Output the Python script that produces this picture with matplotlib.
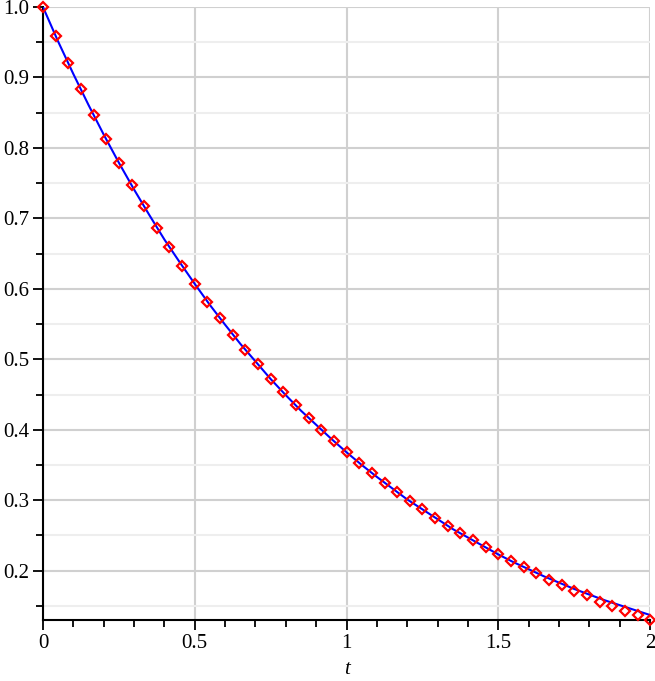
import matplotlib
matplotlib.use("Agg")
import matplotlib.pyplot as plt
from matplotlib.ticker import MultipleLocator

# Solution curve, t step 0.05
t_curve = [i * 0.05 for i in range(41)]
y_curve = [1.000, 0.951, 0.905, 0.861, 0.819, 0.779, 0.741, 0.705, 0.670, 0.638,
           0.607, 0.577, 0.549, 0.522, 0.497, 0.472, 0.449, 0.427, 0.407, 0.387,
           0.368, 0.350, 0.333, 0.317, 0.301, 0.287, 0.273, 0.259, 0.247, 0.235,
           0.223, 0.212, 0.202, 0.192, 0.183, 0.174, 0.166, 0.158, 0.151, 0.144,
           0.137]

# Numerical points (diamonds), t step 1/24
t_pts = [i / 24 for i in range(49)]
y_pts = [1.000, 0.959, 0.920, 0.883, 0.847, 0.812, 0.779, 0.747, 0.717, 0.687,
         0.659, 0.632, 0.607, 0.582, 0.558, 0.535, 0.513, 0.493, 0.472, 0.453,
         0.435, 0.417, 0.400, 0.384, 0.368, 0.353, 0.339, 0.325, 0.311, 0.299,
         0.287, 0.275, 0.264, 0.253, 0.243, 0.233, 0.223, 0.214, 0.205, 0.196,
         0.187, 0.180, 0.171, 0.165, 0.156, 0.150, 0.143, 0.137, 0.130]

plt.rcParams['font.family'] = ['Liberation Serif', 'DejaVu Serif']

fig = plt.figure(figsize=(6.55, 6.81), dpi=100)
ax = fig.add_axes([0.0656, 0.0896, 0.9270, 0.9001])

ax.plot(t_curve, y_curve, color='#0000ff', lw=1.5, zorder=3)
ax.plot(t_pts, y_pts, linestyle='none', marker='D', markersize=5.5,
        markerfacecolor='none', markeredgecolor='#ff0000', markeredgewidth=1.6, zorder=4,
        clip_on=False)

ax.set_xlim(0, 2)
ax.set_ylim(min(y_pts), 1.0)

ax.xaxis.set_minor_locator(MultipleLocator(0.1))
ax.yaxis.set_minor_locator(MultipleLocator(0.05))

ax.set_xticks([0, 0.5, 1, 1.5, 2])
ax.set_xticklabels(['0', '0.5', '1', '1.5', '2'])
yt = [0.2, 0.3, 0.4, 0.5, 0.6, 0.7, 0.8, 0.9, 1.0]
ax.set_yticks(yt)
ax.set_yticklabels([f'{v:.1f}' for v in yt])

ax.grid(True, which='major', color='#d0d0d0', lw=1.5)
ax.grid(True, which='minor', axis='y', color='#eeeeee', lw=1.5)
ax.set_axisbelow(True)

for s in ['top', 'right']:
    ax.spines[s].set_visible(False)
for s in ['left', 'bottom']:
    ax.spines[s].set_linewidth(1.5)
    ax.spines[s].set_color('black')

ax.tick_params(which='major', length=7, width=1.3, labelsize=15, direction='out', pad=3)
ax.tick_params(which='minor', length=5, width=1.3, direction='out')

ax.set_xlabel('t', fontstyle='italic', fontsize=15, labelpad=5)

fig.savefig('out.png', dpi=100)
